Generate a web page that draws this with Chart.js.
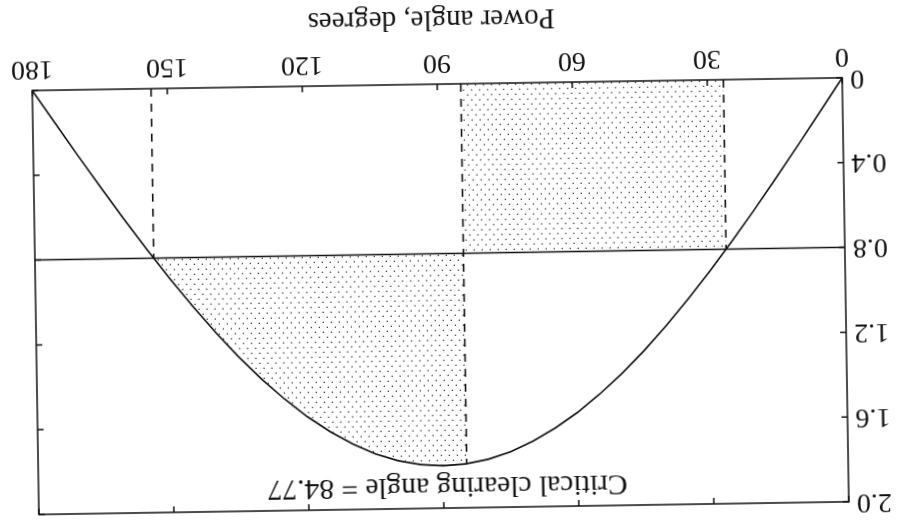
<!DOCTYPE html>
<html>
<head>
<meta charset="utf-8">
<script src="https://cdn.jsdelivr.net/npm/chart.js@4/dist/chart.umd.min.js"></script>
<style>
    html, body { margin: 0; padding: 0; background: #fff; }
    #wrap { width: 900px; height: 522px; transform: rotate(179.1deg); transform-origin: 50% 50%; }
</style>
</head>
<body>
<div id="wrap"><canvas id="powerChart"></canvas></div>
<script>
// Sudut daya (derajat) dan daya listrik Pe (p.u.) tiap 5 derajat
const angles = [0, 5, 10, 15, 20, 25, 30, 35, 40, 45, 50, 55, 60, 65, 70, 75, 80, 85, 90,
    95, 100, 105, 110, 115, 120, 125, 130, 135, 140, 145, 150, 155, 160, 165, 170, 175, 180];
const power = [0, 0.157, 0.313, 0.466, 0.616, 0.761, 0.900, 1.032, 1.157, 1.273, 1.379, 1.474, 1.559, 1.631, 1.691, 1.739, 1.773, 1.793, 1.800,
    1.793, 1.773, 1.739, 1.691, 1.631, 1.559, 1.474, 1.379, 1.273, 1.157, 1.032, 0.900, 0.761, 0.616, 0.466, 0.313, 0.157, 0];

// Daya mekanik dan sudut-sudut penting
const pm = 0.8;
const delta0 = 26.39;
const deltaC = 84.77;
const deltaMax = 153.61;
const powerAtC = 1.793;

// Label sumbu
const xTickValues = [0, 30, 60, 90, 120, 150, 180];
const yTickValues = [0, 0.4, 0.8, 1.2, 1.6, 2.0];
const yTickLabels = ['0', '0.4', '0.8', '1.2', '1.6', '2.0'];

const labelText = 'Critical clearing angle = ' + deltaC;
const xTitle = 'Power angle, degrees';
const fontName = '"Liberation Serif", "Times New Roman", serif';

// Pola titik-titik untuk area percepatan dan perlambatan
function makeDots() {
    const tile = document.createElement('canvas');
    tile.width = 8;
    tile.height = 10;
    const t = tile.getContext('2d');
    t.fillStyle = '#3a3a3a';
    t.fillRect(1, 1, 1.3, 1.3);
    t.fillRect(5, 6, 1.3, 1.3);
    return document.getElementById('powerChart').getContext('2d').createPattern(tile, 'repeat');
}
const dots = makeDots();

const curve = angles.map((a, i) => ({x: a, y: power[i]}));

// Area perlambatan: kurva dari deltaC sampai deltaMax
const decelArea = [{x: deltaC, y: powerAtC}];
angles.forEach((a, i) => {
    if (a > deltaC && a < deltaMax) decelArea.push({x: a, y: power[i]});
});
decelArea.push({x: deltaMax, y: pm});

const dashed = [8, 7];

// Bingkai kotak, tick ke dalam, judul sumbu x dan teks sudut kritis
const framePlugin = {
    id: 'frame',
    afterDraw(chart) {
        const {ctx, chartArea: a, scales: {x, y}} = chart;
        ctx.save();
        ctx.strokeStyle = '#111';
        ctx.lineWidth = 1.5;
        ctx.strokeRect(a.left, a.top, a.right - a.left, a.bottom - a.top);
        ctx.beginPath();
        x.ticks.forEach(t => {
            const px = x.getPixelForValue(t.value);
            ctx.moveTo(px, a.bottom);
            ctx.lineTo(px, a.bottom - 6);
            ctx.moveTo(px, a.top);
            ctx.lineTo(px, a.top + 6);
        });
        y.ticks.forEach(t => {
            const py = y.getPixelForValue(t.value);
            ctx.moveTo(a.left, py);
            ctx.lineTo(a.left + 6, py);
            ctx.moveTo(a.right, py);
            ctx.lineTo(a.right - 6, py);
        });
        ctx.stroke();

        const mid = (a.left + a.right) / 2;
        ctx.fillStyle = '#111';
        ctx.textAlign = 'center';
        ctx.textBaseline = 'alphabetic';
        ctx.font = '29.5px ' + fontName;
        ctx.fillText(labelText, mid - 4, a.top + 30);
        ctx.font = '29px ' + fontName;
        ctx.fillText(xTitle, mid + 5, chart.height - 11);
        ctx.restore();
    }
};

new Chart(document.getElementById('powerChart'), {
    type: 'line',
    data: {
        datasets: [
            {
                data: [{x: delta0, y: pm}, {x: deltaC, y: pm}],
                borderWidth: 0,
                pointRadius: 0,
                backgroundColor: dots,
                fill: {value: 0}
            },
            {
                data: decelArea,
                borderWidth: 0,
                pointRadius: 0,
                backgroundColor: dots,
                fill: {value: pm}
            },
            {
                data: curve,
                borderColor: '#111',
                borderWidth: 1.6,
                pointRadius: 0,
                fill: false
            },
            {
                data: [{x: 0, y: pm}, {x: 180, y: pm}],
                borderColor: '#111',
                borderWidth: 1.5,
                pointRadius: 0,
                fill: false
            },
            {
                data: [{x: delta0, y: 0}, {x: delta0, y: pm}],
                borderColor: '#111',
                borderWidth: 1.6,
                borderDash: dashed,
                pointRadius: 0,
                fill: false
            },
            {
                data: [{x: deltaC, y: 0}, {x: deltaC, y: powerAtC}],
                borderColor: '#111',
                borderWidth: 1.6,
                borderDash: dashed,
                pointRadius: 0,
                fill: false
            },
            {
                data: [{x: deltaMax, y: 0}, {x: deltaMax, y: pm}],
                borderColor: '#111',
                borderWidth: 1.6,
                borderDash: dashed,
                pointRadius: 0,
                fill: false
            }
        ]
    },
    options: {
        responsive: true,
        maintainAspectRatio: false,
        animation: false,
        devicePixelRatio: 1,
        layout: {
            padding: {left: 0, right: 35, top: 14, bottom: 0}
        },
        plugins: {
            legend: {display: false},
            tooltip: {enabled: false}
        },
        scales: {
            x: {
                type: 'linear',
                min: 0,
                max: 180,
                afterBuildTicks: scale => {
                    scale.ticks = xTickValues.map(v => ({value: v}));
                },
                afterFit: scale => {
                    scale.height = 84;
                    scale.paddingLeft = 0;
                    scale.paddingRight = 0;
                },
                grid: {display: false, drawTicks: false},
                border: {display: false},
                ticks: {
                    color: '#111',
                    padding: 5,
                    maxRotation: 0,
                    font: {family: fontName, size: 28}
                }
            },
            y: {
                min: 0,
                max: 2,
                afterBuildTicks: scale => {
                    scale.ticks = yTickValues.map(v => ({value: v}));
                },
                afterFit: scale => {
                    scale.width = 55;
                    scale.paddingTop = 0;
                    scale.paddingBottom = 0;
                },
                grid: {display: false, drawTicks: false},
                border: {display: false},
                ticks: {
                    color: '#111',
                    padding: 8,
                    font: {family: fontName, size: 28},
                    callback: (value, index) => yTickLabels[index]
                }
            }
        }
    },
    plugins: [framePlugin]
});
</script>
</body>
</html>
